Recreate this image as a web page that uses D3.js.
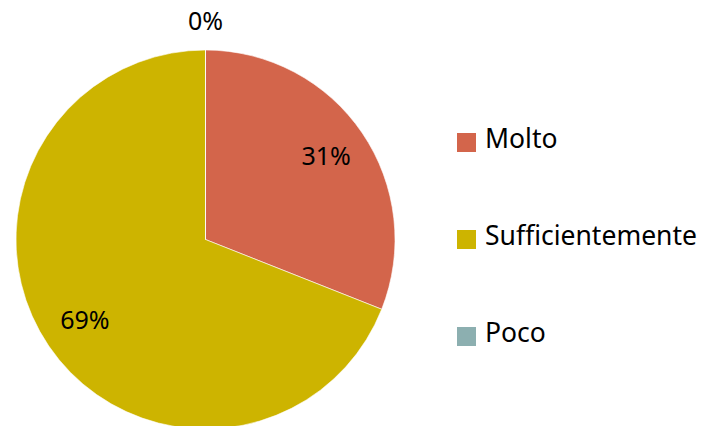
<!DOCTYPE html>
<html>
  <head>
    <meta charset="UTF-8" />
    <title>Pie</title>
    <style>
      body { margin: 0; background: #fff; }
      text { font-family: "Noto Sans", "Open Sans", sans-serif; fill: #000; }
    </style>
  </head>
  <body>
    <div id="chart"></div>
    <script src="https://cdnjs.cloudflare.com/ajax/libs/d3/7.8.5/d3.min.js"></script>
    <script>
const categories = ['Molto', 'Sufficientemente', 'Poco'],
      values = [31, 69, 0],
      labels = ['31%', '69%', '0%'],
      colors = ['#D3654B', '#CDB400', '#8CAFB0'];

const width = 703, height = 426,
      cx = 205.5, cy = 239.5, radius = 189.5;

const svg = d3.select('#chart').append('svg')
  .attr('width', width)
  .attr('height', height);

const data = categories.map((c, i) => ({ name: c, value: values[i], label: labels[i], color: colors[i] }));

const pie = d3.pie().sort(null).value(d => d.value);
const arc = d3.arc().innerRadius(0).outerRadius(radius);
const labelArc = d3.arc().innerRadius(radius * 0.77).outerRadius(radius * 0.77);
const outerArc = d3.arc().innerRadius(radius + 28).outerRadius(radius + 28);

const g = svg.append('g').attr('transform', `translate(${cx},${cy})`);
const arcs = pie(data);

g.selectAll('path')
  .data(arcs)
  .enter()
  .append('path')
  .attr('d', arc)
  .attr('fill', d => d.data.color)
  .attr('stroke', '#fff')
  .attr('stroke-width', 0.6);

g.selectAll('.lbl')
  .data(arcs)
  .enter()
  .append('text')
  .attr('class', 'lbl')
  .attr('transform', d => `translate(${(d.value === 0 ? outerArc : labelArc).centroid(d)})`)
  .attr('text-anchor', 'middle')
  .attr('dy', '0.3em')
  .style('font-size', '25px')
  .text(d => d.data.label);

// legend
const ly = d3.scalePoint().domain(categories).range([142.5, 336.5]);
const legend = svg.append('g').selectAll('g')
  .data(data)
  .enter()
  .append('g')
  .attr('transform', d => `translate(457,${ly(d.name)})`);

legend.append('rect')
  .attr('x', 0).attr('y', -9.5)
  .attr('width', 19).attr('height', 19)
  .attr('fill', d => d.color);

legend.append('text')
  .attr('x', 28)
  .attr('y', -4)
  .attr('dy', '0.36em')
  .style('font-size', '26.5px')
  .text(d => d.name);
    </script>
  </body>
</html>
